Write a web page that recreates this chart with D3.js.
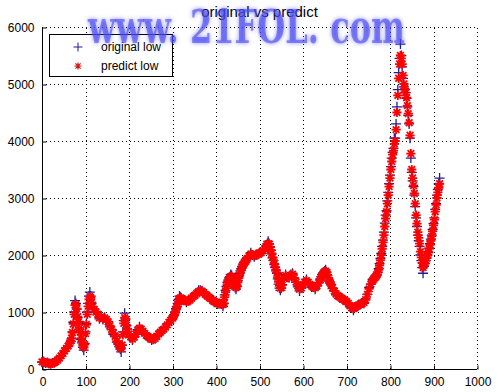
<!DOCTYPE html>
<html><head><meta charset="utf-8">
<script src="https://cdn.jsdelivr.net/npm/d3@7"></script>
<style>html,body{margin:0;padding:0;background:#fff;}svg{display:block;}</style>
</head><body>
<script>
// ---- data ----
const chartTitle = "original vs predict";
const seriesNames = ["original low", "predict low"];
// week index of each sample (denser sampling where the curve is steep)
const weekIndex = [].concat(
  d3.range(0, 64, 4), d3.range(64, 118, 2), d3.range(120, 176, 4), d3.range(176, 198, 2),
  d3.range(200, 300, 4), d3.range(300, 322, 2), d3.range(324, 416, 4), d3.range(416, 472, 2),
  d3.range(472, 516, 4), d3.range(516, 554, 2), d3.range(556, 640, 4), d3.range(640, 666, 2),
  d3.range(668, 762, 4), d3.range(762, 916, 2));
const originalLow = [
  120,130,105,115,95,90,105,110,135,155,195,225,275,315,365,395,
  450,480,530,650,820,1000,1200,1150,1050,900,820,700,640,520,460,380,330,450,650,800,1000,1150,1280,1350,1280,1150,1080,
  1050,990,960,880,930,870,910,860,830,740,690,610,570,470,
  430,390,350,300,420,650,850,980,880,760,700,
  610,550,510,570,610,690,740,690,670,610,590,550,550,510,520,530,590,610,660,670,710,730,790,810,870,
  900,930,950,1000,1060,1100,1150,1220,1280,1260,1250,
  1210,1210,1170,1200,1200,1260,1270,1310,1320,1380,1380,1375,1330,1310,1270,1270,1220,1210,1170,1170,1140,1150,1140,
  1100,1150,1300,1380,1450,1520,1560,1600,1620,1660,1640,1600,1540,1480,1430,1400,1450,1550,1620,1680,1720,1760,1800,1840,1870,1880,1910,1930,
  1960,1990,2040,2000,1970,2010,2010,2040,2040,2090,2110,
  2170,2200,2240,2200,2140,2080,2020,1950,1900,1830,1780,1720,1680,1580,1490,1420,1380,1420,1480,
  1600,1660,1610,1600,1660,1680,1590,1520,1440,1370,1420,1490,1520,1570,1510,1480,1440,1440,1400,1460,1510,
  1580,1620,1660,1680,1700,1720,1740,1700,1640,1590,1540,1510,1480,
  1410,1370,1300,1290,1250,1250,1210,1210,1170,1160,1090,1070,1030,1090,1090,1130,1130,1160,1150,1230,1310,1430,1490,1570,
  1580,1600,1610,1630,1650,1700,1760,1850,1940,2030,2150,2260,2400,2560,2700,2780,2950,3100,3250,3400,
  3550,3700,3800,3870,4050,4050,4300,4600,4900,5200,5450,5700,5500,5300,5100,4950,4900,4850,4750,4600,
  4450,4300,4050,3700,3450,3300,3200,3050,2850,2650,2500,2350,2250,2150,2000,1900,1780,1680,1800,1850,
  1900,1950,2000,2050,2120,2200,2280,2350,2450,2550,2650,2800,2900,3050,3150,3250,3350];
const predictLow = [
  125,122,112,110,100,95,100,112,130,158,190,230,270,320,360,402,
  455,490,540,640,790,960,1120,1130,1060,920,830,720,650,540,480,410,380,430,620,780,960,1100,1220,1270,1250,1170,1090,
  1050,1000,960,900,915,885,895,870,830,760,695,630,575,490,
  445,410,380,360,420,600,800,900,870,770,710,
  615,565,525,560,615,675,715,700,665,625,590,565,545,530,520,540,575,615,645,675,700,735,775,815,855,
  895,915,945,985,1040,1085,1130,1190,1235,1245,1240,
  1220,1200,1185,1190,1210,1245,1275,1295,1325,1360,1370,1365,1340,1305,1280,1260,1235,1205,1185,1165,1155,1145,1150,
  1130,1150,1260,1350,1420,1490,1530,1570,1600,1625,1620,1590,1550,1490,1460,1430,1450,1520,1590,1650,1690,1740,1780,1820,1845,1870,1890,1915,
  1940,1985,2015,2005,1985,1995,2015,2030,2045,2075,2105,
  2150,2180,2200,2190,2140,2090,2030,1960,1910,1850,1790,1740,1690,1610,1530,1460,1420,1430,1470,
  1590,1640,1620,1605,1640,1665,1600,1525,1460,1400,1425,1475,1525,1550,1520,1485,1455,1435,1425,1460,1515,
  1570,1605,1640,1665,1690,1705,1715,1690,1650,1600,1555,1520,1490,
  1425,1365,1315,1285,1265,1245,1225,1205,1185,1155,1110,1075,1060,1085,1105,1120,1140,1150,1165,1215,1310,1405,1490,1550,
  1575,1595,1610,1625,1650,1690,1740,1820,1910,2000,2110,2220,2350,2500,2640,2760,2900,3050,3200,3350,
  3500,3640,3760,3830,3950,4000,4200,4500,4800,5100,5350,5500,5450,5350,5150,5000,4920,4850,4760,4620,
  4480,4320,4100,3780,3500,3350,3220,3080,2900,2700,2550,2400,2300,2200,2060,1960,1860,1780,1820,1860,
  1900,1950,1990,2040,2110,2180,2250,2330,2420,2520,2620,2760,2880,3000,3100,3180,3250];
const xTicks = [0,100,200,300,400,500,600,700,800,900,1000];
const yTicks = [0,1000,2000,3000,4000,5000,6000];
const watermarkText = "www. 21FOL. com";

// ---- layout ----
const W = 499, H = 392;
const svg = d3.select("body").append("svg").attr("width", W).attr("height", H)
  .style("font-family", "'Liberation Sans', Arial, sans-serif");

const x = d3.scaleLinear().domain([0, 1000]).range([42, 477]);
const y = d3.scaleLinear().domain([0, 6000]).range([369, 27]);

// grid
const grid = svg.append("g").attr("stroke", "#000").attr("stroke-width", 1).attr("stroke-dasharray", "1,3");
grid.selectAll("line.gx").data(xTicks.slice(1)).join("line")
  .attr("x1", d => Math.round(x(d)) + 0.5).attr("x2", d => Math.round(x(d)) + 0.5)
  .attr("y1", y(0)).attr("y2", y(6000));
grid.selectAll("line.gy").data(yTicks.slice(1)).join("line")
  .attr("y1", d => Math.round(y(d)) + 0.5).attr("y2", d => Math.round(y(d)) + 0.5)
  .attr("x1", x(0)).attr("x2", x(1000));

// axes
const xAxis = d3.axisBottom(x).tickValues(xTicks).tickSize(-4).tickPadding(8).tickFormat(d3.format("d"));
const yAxis = d3.axisLeft(y).tickValues(yTicks).tickSize(-4).tickPadding(8).tickFormat(d3.format("d"));
const gx = svg.append("g").attr("transform", "translate(0.5," + (Math.round(y(0)) + 0.5) + ")").call(xAxis);
const gy = svg.append("g").attr("transform", "translate(" + (Math.round(x(0)) + 0.5) + ",0.5)").call(yAxis);
[gx, gy].forEach(g => {
  g.selectAll("text").attr("font-size", 12).attr("fill", "#000").attr("font-family", "'Liberation Sans', Arial, sans-serif");
  g.selectAll("line").attr("stroke", "#000");
});
gx.select(".domain").attr("stroke", "#000").attr("d", "M" + (x(0) - 0.5) + ",0H" + (x(1000) - 0.5));
gy.select(".domain").attr("stroke", "#000").attr("d", "M0," + (y(6000) - 0.5) + "V" + (y(0) - 0.5));

// markers
const plusPath = s => `M${-s},0H${s}M0,${-s}V${s}`;
const starPath = s => { const d = s * 0.72; return `M${-s},0H${s}M0,${-s}V${s}M${-d},${-d}L${d},${d}M${-d},${d}L${d},${-d}`; };

const n = Math.min(weekIndex.length, originalLow.length, predictLow.length);
const orig = d3.range(n).map(i => ({ i: weekIndex[i], v: originalLow[i] }));
const pred = d3.range(n).map(i => ({ i: weekIndex[i], v: predictLow[i] }));

svg.append("g").selectAll("path").data(orig).join("path")
  .attr("transform", d => `translate(${x(d.i)},${y(d.v)})`)
  .attr("d", plusPath(5)).attr("stroke", "#1e1e98").attr("stroke-width", 1.3).attr("fill", "none");
svg.append("g").selectAll("path").data(pred).join("path")
  .attr("transform", d => `translate(${x(d.i)},${y(d.v)})`)
  .attr("d", starPath(4.6)).attr("stroke", "#ff0000").attr("stroke-width", 1.8).attr("fill", "none");

// title
svg.append("text").attr("x", (x(0) + x(1000)) / 2).attr("y", 17).attr("text-anchor", "middle")
  .attr("font-size", 15).attr("fill", "#000").text(chartTitle);

// legend
const lg = svg.append("g");
lg.append("rect").attr("x", 49.5).attr("y", 34.5).attr("width", 123).attr("height", 42)
  .attr("fill", "#fff").attr("stroke", "#000");
lg.append("path").attr("transform", "translate(78,47)").attr("d", plusPath(4.5)).attr("stroke", "#1e1e98").attr("fill", "none");
lg.append("path").attr("transform", "translate(78,66)").attr("d", starPath(3.6)).attr("stroke", "#d01818").attr("stroke-width", 1.2).attr("fill", "none");
lg.selectAll("text").data(seriesNames).join("text")
  .attr("x", 101).attr("y", (d, i) => 51 + i * 19).attr("font-size", 12).attr("fill", "#000").text(d => d);

// watermark
const defs = svg.append("defs");
const f = defs.append("filter").attr("id", "glow").attr("x", "-10%").attr("y", "-30%").attr("width", "120%").attr("height", "160%");
f.append("feGaussianBlur").attr("in", "SourceGraphic").attr("stdDeviation", 2).attr("result", "b");
const m = f.append("feMerge");
m.append("feMergeNode").attr("in", "b");
m.append("feMergeNode").attr("in", "SourceGraphic");
svg.append("text").attr("x", 88).attr("y", 43).attr("textLength", 317).attr("lengthAdjust", "spacingAndGlyphs")
  .attr("font-family", "'DejaVu Serif', serif").attr("font-weight", "bold").attr("font-size", 46)
  .attr("fill", "#4a4af2").attr("fill-opacity", 0.6).attr("filter", "url(#glow)").text(watermarkText);
</script>
</body></html>
